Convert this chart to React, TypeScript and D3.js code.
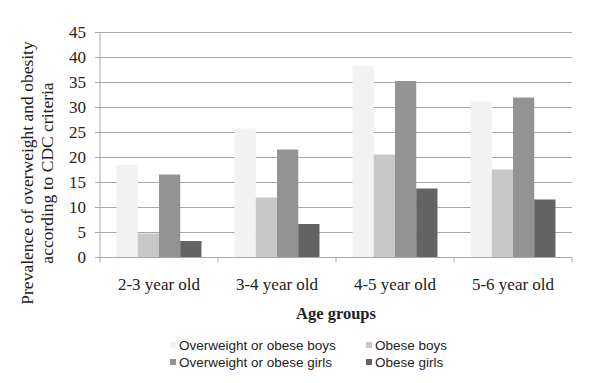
import React from "react";
import * as d3 from "d3";

const categories = ["2-3 year old", "3-4 year old", "4-5 year old", "5-6 year old"];
const seriesNames = ["Overweight or obese boys", "Obese boys", "Overweight or obese girls", "Obese girls"];
const overweightBoys = [18.5, 25.8, 38.3, 31.2];
const obeseBoys = [4.8, 12.0, 20.6, 17.6];
const overweightGirls = [16.6, 21.6, 35.3, 32.0];
const obeseGirls = [3.3, 6.7, 13.8, 11.6];
const yTicks = [0, 5, 10, 15, 20, 25, 30, 35, 40, 45];
const colors = ["#f2f2f3", "#c8c8c9", "#939394", "#636364"];

export default function App() {
  const W = 600, H = 383;
  const left = 100, right = 572, top = 32.5, bottom = 257.5;
  const series = [overweightBoys, obeseBoys, overweightGirls, obeseGirls];
  const x0 = d3.scaleBand<string>().domain(categories).range([left, right]).paddingInner(0.28).paddingOuter(0.14);
  const x1 = d3.scaleBand<number>().domain([0, 1, 2, 3]).range([0, x0.bandwidth()]);
  const y = d3.scaleLinear().domain([0, 45]).range([bottom, top]);
  const serif = { fontFamily: "Liberation Serif, Tinos, Times New Roman, serif" };
  const sans = { fontFamily: "Liberation Sans, Arial, sans-serif" };
  const boundaries = [left, ...categories.map((c) => (x0(c) as number) - x0.step() * 0.14 + x0.step())];

  return (
    <svg width={W} height={H} style={{ position: "absolute", left: 0, top: 0, background: "#fff" }}>
      <rect x={0} y={0} width={W} height={H} fill="#fff" />
      {yTicks.map((t) => (
        <g key={t}>
          {t > 0 && <line x1={left} x2={right} y1={y(t)} y2={y(t)} stroke="#a9a9a9" strokeWidth={1} />}
          <line x1={left - 5} x2={left} y1={y(t)} y2={y(t)} stroke="#a9a9a9" strokeWidth={1} />
          <text x={left - 14} y={y(t)} dy="0.35em" textAnchor="end" style={serif} fontSize={17} fill="#222">{t}</text>
        </g>
      ))}
      <line x1={left} x2={left} y1={top} y2={bottom} stroke="#a9a9a9" strokeWidth={1} />
      {series.map((vals, si) =>
        categories.map((c, ci) => (
          <rect key={`${si}-${ci}`} x={(x0(c) as number) + (x1(si) as number)} y={y(vals[ci])} width={x1.bandwidth()} height={bottom - y(vals[ci])} fill={colors[si]} />
        ))
      )}
      <line x1={left} x2={right} y1={bottom} y2={bottom} stroke="#a9a9a9" strokeWidth={1} />
      {boundaries.map((bx, i) => (
        <line key={i} x1={bx} x2={bx} y1={bottom} y2={bottom + 5} stroke="#a9a9a9" strokeWidth={1} />
      ))}
      {categories.map((c) => (
        <text key={c} x={(x0(c) as number) + x0.bandwidth() / 2} y={290} textAnchor="middle" style={serif} fontSize={17} fill="#222">{c}</text>
      ))}
      <text x={(left + right) / 2} y={319} textAnchor="middle" style={serif} fontSize={16.5} fontWeight="bold" fill="#222">Age groups</text>
      <g transform="translate(33,173) rotate(-90)">
        <text x={0} y={0} textAnchor="middle" style={serif} fontSize={17.5} fill="#222">Prevalence of overweight and obesity</text>
        <text x={0} y={20} textAnchor="middle" style={serif} fontSize={17.5} fill="#222">according to CDC criteria</text>
      </g>
      {seriesNames.map((n, i) => {
        const lx = i % 2 === 0 ? 170 : 366;
        const ly = i < 2 ? 345 : 362;
        return (
          <g key={n}>
            <rect x={lx} y={ly - 3} width={6} height={6} fill={colors[i]} />
            <text x={lx + 9} y={ly} dy="0.35em" style={sans} fontSize={13.5} fill="#222">{n}</text>
          </g>
        );
      })}
    </svg>
  );
}
